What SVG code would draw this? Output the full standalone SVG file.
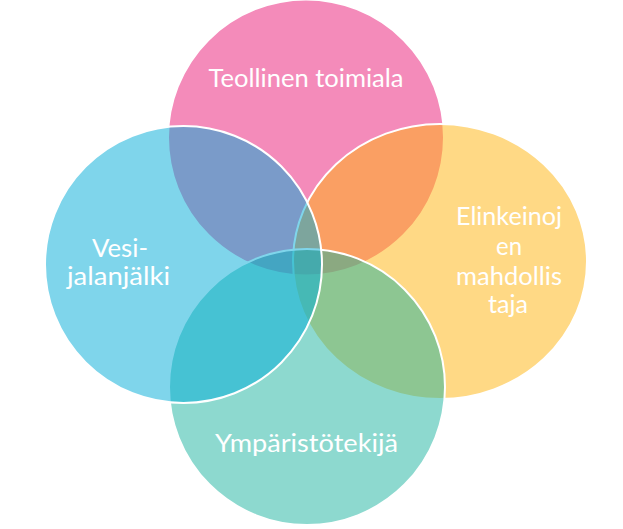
<svg xmlns="http://www.w3.org/2000/svg" width="623" height="529" viewBox="0 0 623 529">
<style>
.c{fill-opacity:0.5;stroke:#ffffff;stroke-width:2}
.t{font-family:Lato,"Open Sans","Liberation Sans",sans-serif;font-size:25px;fill:#ffffff;text-anchor:middle}
</style>
<rect width="623" height="529" fill="#ffffff"/>
<g id="node-teollinen">
<circle class="c" cx="306" cy="137.5" r="138" fill="#E91775"/>
<text class="t" x="306" y="87" textLength="195" lengthAdjust="spacingAndGlyphs">Teollinen toimiala</text>
</g>
<g id="node-elinkeino">
<ellipse class="c" cx="440" cy="261.5" rx="147" ry="137.5" fill="#FFB30B"/>
<text class="t" x="509" y="225" textLength="106" lengthAdjust="spacingAndGlyphs">Elinkeinoj</text>
<text class="t" x="509" y="255" textLength="26" lengthAdjust="spacingAndGlyphs">en</text>
<text class="t" x="509" y="285" textLength="106" lengthAdjust="spacingAndGlyphs">mahdollis</text>
<text class="t" x="508" y="313" textLength="40" lengthAdjust="spacingAndGlyphs">taja</text>
</g>
<g id="node-ymparisto">
<circle class="c" cx="307" cy="387" r="138" fill="#1BB39F"/>
<text class="t" x="306.5" y="452" textLength="183" lengthAdjust="spacingAndGlyphs">Ympäristötekijä</text>
</g>
<g id="node-vesi">
<circle class="c" cx="183.5" cy="264.5" r="138.5" fill="#00ABD7"/>
<text class="t" x="120" y="257" textLength="56" lengthAdjust="spacingAndGlyphs">Vesi-</text>
<text class="t" x="118.5" y="285" textLength="103" lengthAdjust="spacingAndGlyphs">jalanjälki</text>
</g>
<g id="connectors"></g>
</svg>
